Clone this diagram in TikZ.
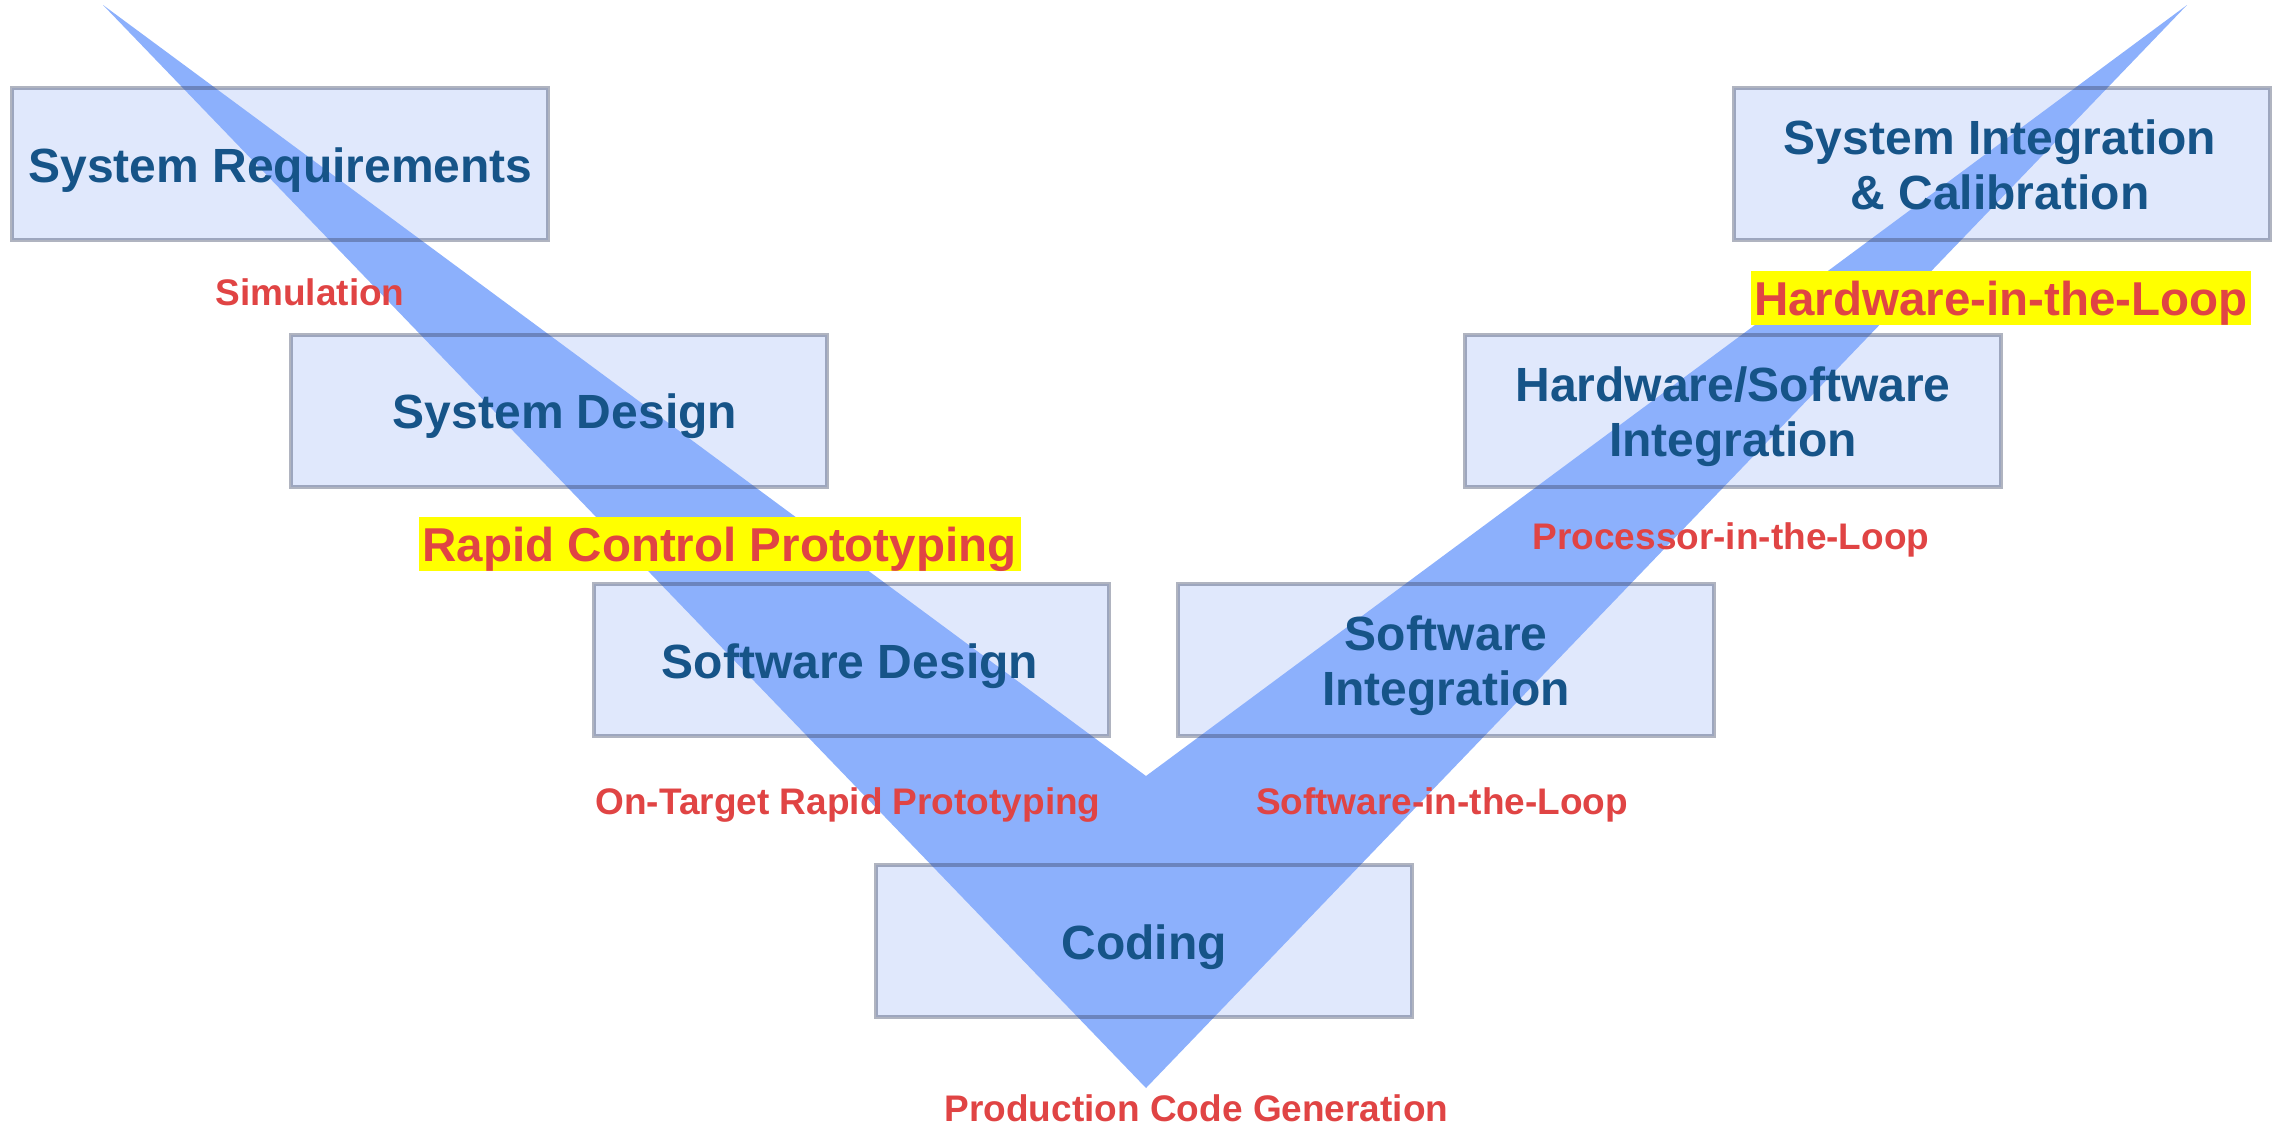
\documentclass[tikz,border=0pt]{standalone}
\usepackage{fontspec}
\setmainfont{Liberation Sans}
\definecolor{boxfill}{RGB}{224,232,252}
\definecolor{boxline}{RGB}{58,68,98}
\definecolor{stagetext}{RGB}{22,84,136}
\definecolor{methodred}{RGB}{224,68,68}
\definecolor{vblue}{RGB}{140,176,252}
\definecolor{hiyellow}{RGB}{255,255,0}
\tikzset{
  stagebox/.style={rectangle, fill=boxfill, outer sep=0pt,
    minimum width=536pt, minimum height=152pt, inner sep=0pt},
  stageframe/.style={draw=boxline, draw opacity=0.4, line width=4pt},
  stagelabel/.style={anchor=base, inner sep=0pt, text=stagetext,
    font=\fontsize{48}{55}\selectfont\bfseries},
  method/.style={anchor=base, inner sep=0pt, text=methodred,
    font=\fontsize{37}{42}\selectfont\bfseries},
  keymethod/.style={anchor=base, inner xsep=2pt, inner ysep=0pt, fill=hiyellow,
    text=methodred, font=\fontsize{47.5}{55}\selectfont\bfseries,
    text height=44pt, text depth=10pt},
  vband/.style={fill=vblue}
}
\newcommand{\twolines}[2]{\begin{tabular}[t]{@{}c@{}}#1\\#2\end{tabular}}
\begin{document}
\begin{tikzpicture}[x=1pt, y=-1pt]
  \useasboundingbox (0,0) rectangle (2285,1125);

  % stage boxes (fill only; frames are drawn over the band)
  \node[stagebox] (sysreq) at (280,164) {};
  \node[stagebox] (sysdes) at (559,411) {};
  \node[stagebox, minimum width=515pt] (swdes) at (851.5,660) {};
  \node[stagebox] (coding) at (1144,941) {};
  \node[stagebox] (swint) at (1446,660) {};
  \node[stagebox] (hwsw) at (1732.5,411) {};
  \node[stagebox] (sysint) at (2002,164) {};

  % the V band
  \coordinate (vleft) at (103,5);
  \coordinate (vbottom) at (1146,1088);
  \coordinate (vright) at (2187,5);
  \coordinate (vnotch) at (1146,776);
  \fill[vband] (vleft) -- (vbottom) -- (vright) -- (vnotch) -- cycle;

  % translucent frames of the stage boxes
  \foreach \b in {sysreq,sysdes,swdes,coding,swint,hwsw,sysint}
    \draw[stageframe] (\b.south west) rectangle (\b.north east);

  % stage names
  \node[stagelabel] (sysreqt) at (280.5,182) {System Requirements};
  \node[stagelabel] (sysdest) at (565,428) {System Design};
  \node[stagelabel] (swdest) at (850,678) {Software Design};
  \node[stagelabel] (codingt) at (1144,959) {Coding};
  \node[stagelabel] (swintt) at (1446,650) {\twolines{Software}{Integration}};
  \node[stagelabel] (hwswt) at (1733,401) {\twolines{Hardware/Software}{Integration}};
  \node[stagelabel] (sysintt) at (2000,154) {\twolines{System Integration}{\& Calibration}};

  % methods
  \node[method] (sim) at (310,305) {Simulation};
  \node[method] (pil) at (1731,549) {Processor-in-the-Loop};
  \node[method] (otrp) at (848,814) {On-Target Rapid Prototyping};
  \node[method] (sil) at (1442,814) {Software-in-the-Loop};
  \node[method] (pcg) at (1196.5,1121) {Production Code Generation};
  \node[keymethod, minimum width=602pt] (rcp) at (719.5,561) {Rapid Control Prototyping};
  \node[keymethod, minimum width=500pt] (hil) at (2001,315) {Hardware-in-the-Loop};
\end{tikzpicture}
\end{document}
